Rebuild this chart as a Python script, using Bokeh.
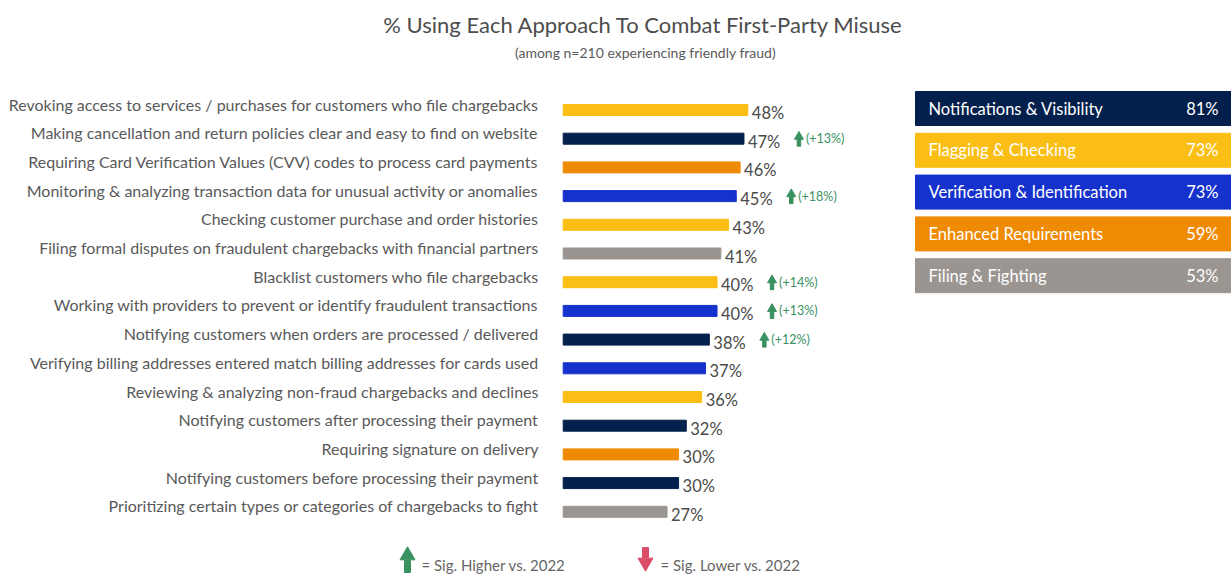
from bokeh.plotting import figure
from bokeh.models import ColumnDataSource, Range1d
from bokeh.core.properties import value
from bokeh.embed import file_html
from bokeh.resources import INLINE

# ---------------- data ----------------
categories = [
    "Revoking access to services / purchases for customers who file chargebacks",
    "Making cancellation and return policies clear and easy to find on website",
    "Requiring Card Verification Values (CVV) codes to process card payments",
    "Monitoring & analyzing transaction data for unusual activity or anomalies",
    "Checking customer purchase and order histories",
    "Filing formal disputes on fraudulent chargebacks with financial partners",
    "Blacklist customers who file chargebacks",
    "Working with providers to prevent or identify fraudulent transactions",
    "Notifying customers when orders are processed / delivered",
    "Verifying billing addresses entered match billing addresses for cards used",
    "Reviewing & analyzing non-fraud chargebacks and declines",
    "Notifying customers after processing their payment",
    "Requiring signature on delivery",
    "Notifying customers before processing their payment",
    "Prioritizing certain types or categories of chargebacks to fight",
]
values = [48, 47, 46, 45, 43, 41, 40, 40, 38, 37, 36, 32, 30, 30, 27]
groups = ["Flagging", "Notifications", "Enhanced", "Verification", "Flagging",
          "Filing", "Flagging", "Verification", "Notifications", "Verification",
          "Flagging", "Notifications", "Enhanced", "Notifications", "Filing"]
sig_delta = [None, 13, None, 18, None, None, 14, 13, 12, None, None, None, None, None, None]

group_keys = ["Notifications", "Flagging", "Verification", "Enhanced", "Filing"]
group_labels = ["Notifications & Visibility", "Flagging & Checking",
                "Verification & Identification", "Enhanced Requirements",
                "Filing & Fighting"]
group_values = [81, 73, 73, 59, 53]
group_colors = {
    "Notifications": "#03204C",
    "Flagging": "#FBBE14",
    "Verification": "#1632CC",
    "Enhanced": "#EF8A03",
    "Filing": "#9A9591",
}

TITLE = "% Using Each Approach To Combat First-Party Misuse"
SUBTITLE = "(among n=210 experiencing friendly fraud)"

# ---------------- layout ----------------
W, H = 1231, 574
PX_PER_PCT = 3.846
X0 = 562.7           # screen x of 0%
ROW0 = 109.5         # screen y (from top) of first row
ROW_STEP = 28.7

def dx(img_x):
    return (img_x - X0) / PX_PER_PCT

def dy(img_y):
    return (img_y - ROW0) / ROW_STEP

p = figure(width=W, height=H, output_backend="svg", toolbar_location=None,
           x_range=Range1d(-X0 / PX_PER_PCT, (W - X0) / PX_PER_PCT),
           y_range=Range1d((H - ROW0) / ROW_STEP, -ROW0 / ROW_STEP),
           min_border=0, outline_line_color=None, background_fill_color="white",
           border_fill_color="white")
p.axis.visible = False
p.grid.visible = False

FONT = value("Lato")
GRAY = "#595959"
GREEN = "#3A9162"
RED = "#D94D66"

n = len(categories)
rows = list(range(n))
px_y = 1.0 / ROW_STEP   # one pixel in y data units
px_x = 1.0 / PX_PER_PCT

src = ColumnDataSource(dict(
    y=rows,
    v=values,
    cat=categories,
    color=[group_colors[g] for g in groups],
    lab=[f"{v}%" for v in values],
    lab_x=[v + 4 * px_x for v in values],
    lab_y=[r + 3 * px_y for r in rows],
    cat_y=[r - 6 * px_y for r in rows],
))

p.hbar(y="y", left=0, right="v", height=11 * px_y, color="color", source=src)
p.text(x=dx(538), y="cat_y", text="cat", source=src, text_align="right",
       text_baseline="middle", text_font=FONT, text_font_size="16px",
       text_color=GRAY)
p.text(x="lab_x", y="lab_y", text="lab", source=src, text_align="left",
       text_baseline="middle", text_font=FONT, text_font_size="16.5px",
       text_color="#4a4a4a")

# significance markers
sig_rows = [i for i in rows if sig_delta[i] is not None]
sig_src = ColumnDataSource(dict(
    ax=[values[i] + 55 * px_x for i in sig_rows],
    head_y=[i - 2 * px_y for i in sig_rows],
    stem_y=[i + 3.5 * px_y for i in sig_rows],
    tx=[values[i] + 62 * px_x for i in sig_rows],
    ty=[i + 0 * px_y for i in sig_rows],
    txt=[f"(+{sig_delta[i]}%)" for i in sig_rows],
))
p.scatter(x="ax", y="head_y", source=sig_src, marker="triangle", size=9,
          color=GREEN)
p.rect(x="ax", y="stem_y", width=3.5, height=8, width_units="screen",
       height_units="screen", source=sig_src, color=GREEN)
p.text(x="tx", y="ty", text="txt", source=sig_src, text_align="left",
       text_baseline="middle", text_font=FONT, text_font_size="12.5px",
       text_color=GREEN)

# right-hand group summary boxes
gi = list(range(len(group_keys)))
box_top = [91 + 41.8 * j for j in gi]
g_src = ColumnDataSource(dict(
    left=[dx(915)] * len(gi),
    right=[dx(1240)] * len(gi),
    top=[dy(t) for t in box_top],
    bottom=[dy(t + 34) for t in box_top],
    cy=[dy(t + 17) for t in box_top],
    color=[group_colors[k] for k in group_keys],
    lab=group_labels,
    val=[f"{v}%" for v in group_values],
))
p.quad(left="left", right="right", top="top", bottom="bottom", color="color",
       source=g_src)
p.text(x=dx(928), y="cy", text="lab", source=g_src, text_align="left",
       text_baseline="middle", text_font=FONT, text_font_size="16.5px",
       text_color="white")
p.text(x=dx(1218), y="cy", text="val", source=g_src, text_align="right",
       text_baseline="middle", text_font=FONT, text_font_size="16.5px",
       text_color="white")

# title and subtitle
p.text(x=[dx(643)], y=[dy(24)], text=[TITLE], text_align="center",
       text_baseline="middle", text_font=FONT, text_font_size="22px",
       text_color="#4d4d4d")
p.text(x=[dx(645)], y=[dy(52)], text=[SUBTITLE], text_align="center",
       text_baseline="middle", text_font=FONT, text_font_size="14px",
       text_color="#5a5a5a")

# bottom key
p.scatter(x=[dx(407)], y=[dy(555)], marker="triangle", size=15, color=GREEN)
p.rect(x=[dx(407)], y=[dy(566)], width=6, height=12, width_units="screen",
       height_units="screen", color=GREEN)
p.text(x=[dx(421)], y=[dy(564)], text=["= Sig. Higher vs. 2022"],
       text_align="left", text_baseline="middle", text_font=FONT,
       text_font_size="15px", text_color="#666666")
p.scatter(x=[dx(645)], y=[dy(562)], marker="inverted_triangle", size=15,
          color=RED)
p.rect(x=[dx(645)], y=[dy(552)], width=6, height=10, width_units="screen",
       height_units="screen", color=RED)
p.text(x=[dx(660)], y=[dy(564)], text=["= Sig. Lower vs. 2022"],
       text_align="left", text_baseline="middle", text_font=FONT,
       text_font_size="15px", text_color="#666666")

open("out.html", "w").write(file_html(p, INLINE))
